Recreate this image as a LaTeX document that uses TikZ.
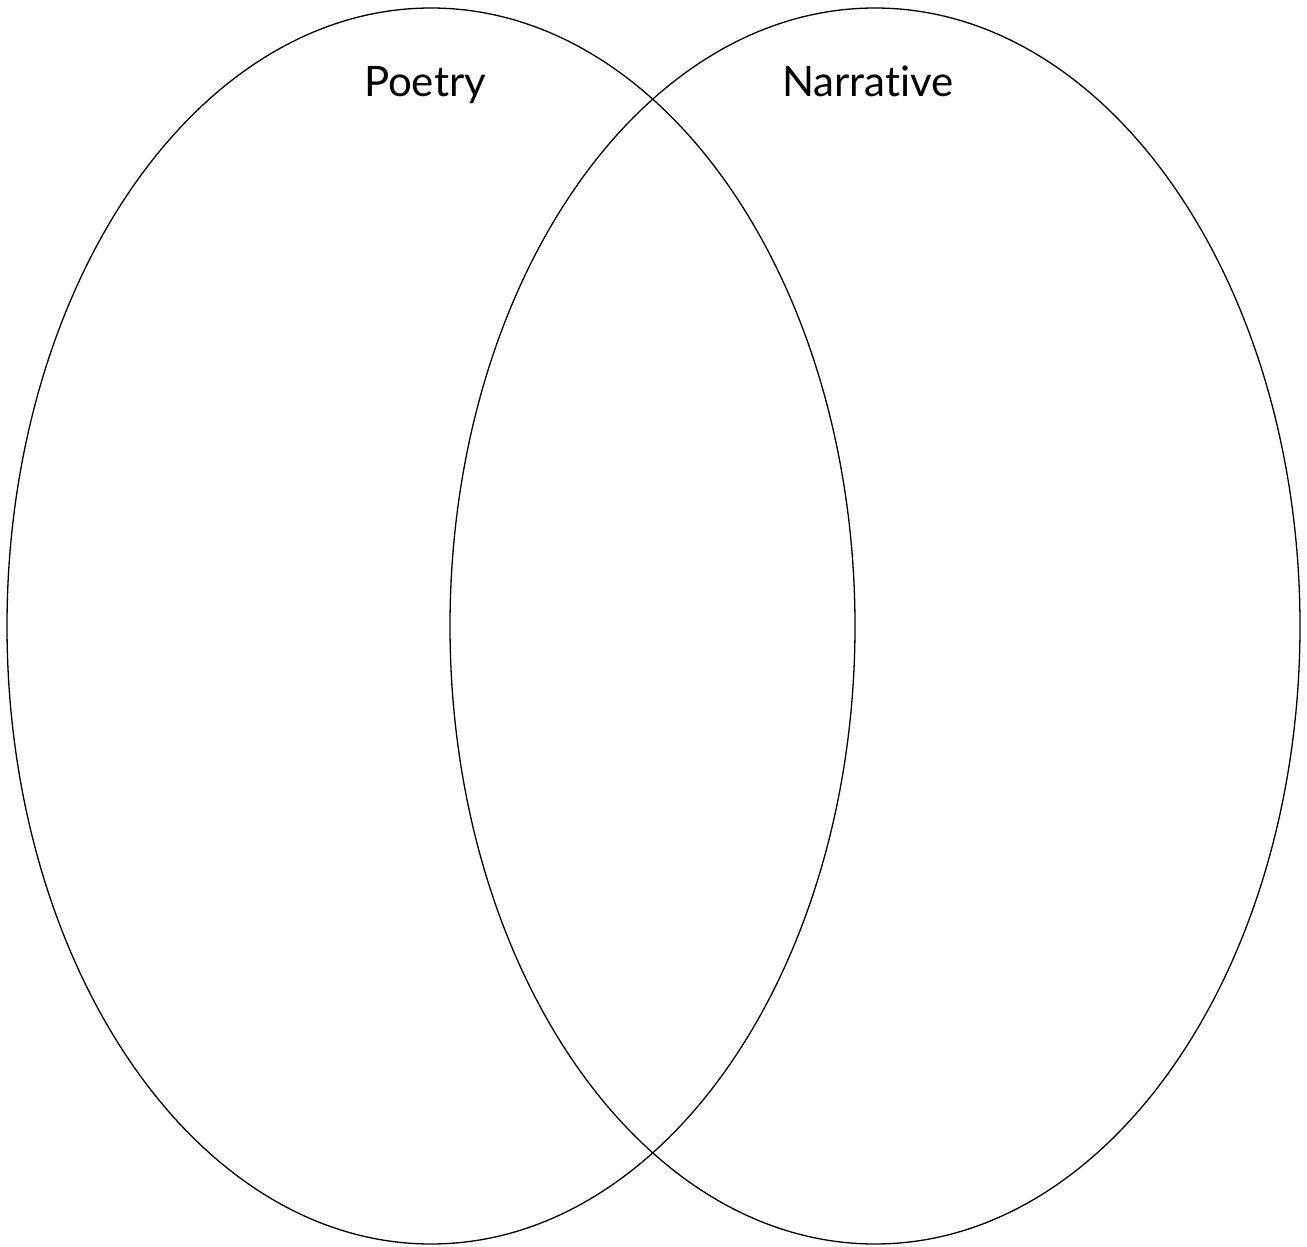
\documentclass[tikz,border=0pt]{standalone}
\usepackage{fontspec}
\setmainfont[Ligatures={NoCommon}]{Lato}
\begin{document}
\begin{tikzpicture}[x=1pt,y=-1pt,
  venn/.style={draw=black,line width=1.3pt},
  lbl/.style={font=\fontsize{42}{50}\selectfont,inner sep=0pt,anchor=base}]
\useasboundingbox (0,0) rectangle (1307,1247);
\draw[venn] (431,626) ellipse [x radius=424, y radius=618];
\draw[venn] (875,626) ellipse [x radius=425, y radius=618];
\node[lbl] (poetry) at (425,96) {Poetry};
\node[lbl] (narrative) at (868,96) {Narrative};
\end{tikzpicture}
\end{document}
